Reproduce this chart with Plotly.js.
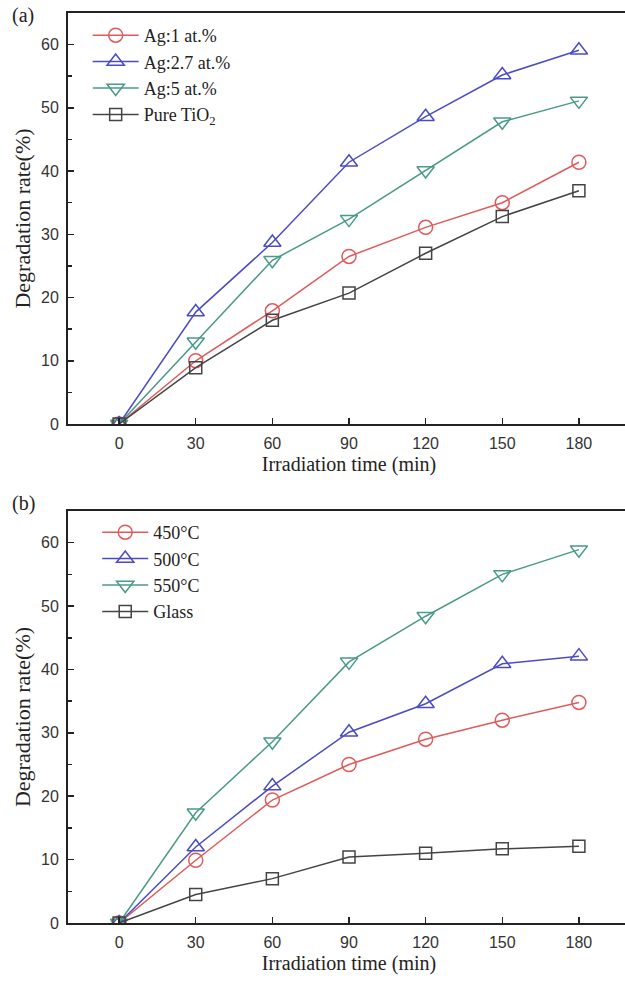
<!DOCTYPE html>
<html>
<head>
<meta charset="utf-8">
<script src="https://cdn.plot.ly/plotly-3.0.1.min.js"></script>
<style>
html,body{margin:0;padding:0;overflow:hidden;background:#fff;width:625px;height:983px;}
#chart{width:640px;height:983px;}
</style>
</head>
<body>
<div id="chart"></div>
<script>
// ---- data ----
const time = [0, 30, 60, 90, 120, 150, 180];
const xTicks = [0, 30, 60, 90, 120, 150, 180];

// panel (a)
const namesA = ["Ag:1 at.%", "Ag:2.7 at.%", "Ag:5 at.%", "Pure TiO<sub>2</sub>"];
const ag1  = [0, 10.0, 17.9, 26.5, 31.1, 35.0, 41.4];
const ag27 = [0, 17.7, 28.7, 41.4, 48.6, 55.2, 59.1];
const ag5  = [0, 13.0, 25.9, 32.4, 40.1, 47.8, 51.1];
const pureTiO2 = [0, 8.9, 16.4, 20.7, 27.0, 32.8, 36.9];

// panel (b)
const namesB = ["450°C", "500°C", "550°C", "Glass"];
const t450 = [0, 9.9, 19.4, 25.0, 29.0, 32.0, 34.8];
const t500 = [0, 12.0, 21.6, 30.1, 34.6, 40.9, 42.1];
const t550 = [0, 17.4, 28.6, 41.2, 48.4, 55.0, 58.9];
const glass = [0, 4.5, 7.0, 10.4, 11.0, 11.7, 12.1];

// ---- styles ----
const colors = ["#e05a5a", "#4b4bc8", "#4a9a88", "#444444"];
const symbols = ["circle-open", "triangle-up-open", "triangle-down-open", "square-open"];
const sizes = [14, 15, 15, 12];

function mk(y, i, name, xa, ya, leg) {
  return {
    x: time, y: y, name: name, type: "scatter", mode: "lines+markers",
    xaxis: xa, yaxis: ya, legend: leg,
    line: {color: colors[i], width: 1.5},
    marker: {symbol: symbols[i], size: sizes[i], color: colors[i], line: {width: 1.5, color: colors[i]}}
  };
}

const traces = [
  mk(ag1, 0, namesA[0], "x", "y", "legend"),
  mk(ag27, 1, namesA[1], "x", "y", "legend"),
  mk(ag5, 2, namesA[2], "x", "y", "legend"),
  mk(pureTiO2, 3, namesA[3], "x", "y", "legend"),
  mk(t450, 0, namesB[0], "x2", "y2", "legend2"),
  mk(t500, 1, namesB[1], "x2", "y2", "legend2"),
  mk(t550, 2, namesB[2], "x2", "y2", "legend2"),
  mk(glass, 3, namesB[3], "x2", "y2", "legend2")
];

const H = 983;
const serif = "Liberation Serif, Times New Roman, serif";
const tickFont = {family: "Liberation Sans, Arial, sans-serif", size: 16, color: "#333"};
const xTitleFont = {family: serif, size: 20, color: "#222"};
const yTitleFont = {family: serif, size: 22, color: "#222"};
const legFont = {family: serif, size: 18, color: "#222"};

function xax(anchor) {
  return {
    anchor: anchor, range: [-20, 200], tickvals: xTicks, ticktext: xTicks.map(String),
    ticks: "inside", ticklen: 6, tickwidth: 1.5, tickcolor: "#222",
    showline: true, linecolor: "#222", linewidth: 2, mirror: true,
    showgrid: false, zeroline: false, tickfont: tickFont, ticklabelstandoff: 4,
    title: {text: "Irradiation time (min)", font: xTitleFont, standoff: 6}
  };
}
function yax(anchor, dom) {
  return {
    anchor: anchor, domain: dom, range: [0, 65], dtick: 10, tick0: 0,
    ticks: "inside", ticklen: 6, tickwidth: 1.5, tickcolor: "#222",
    minor: {dtick: 5, ticks: "inside", ticklen: 4, tickwidth: 1.5, tickcolor: "#222"},
    showline: true, linecolor: "#222", linewidth: 2, mirror: true,
    showgrid: false, zeroline: false, tickfont: tickFont, ticklabelstandoff: 4,
    title: {text: "Degradation rate(%)", font: yTitleFont, standoff: 4}
  };
}

const layout = {
  width: 640, height: H,
  margin: {l: 68, r: 10, t: 0, b: 0},
  paper_bgcolor: "#fff", plot_bgcolor: "#fff",
  xaxis: xax("y"),
  yaxis: yax("x", [1 - 424 / H, 1 - 13 / H]),
  xaxis2: xax("y2"),
  yaxis2: yax("x2", [1 - 923 / H, 1 - 511 / H]),
  legend: {
    x: 0.035, y: 1 - 17 / H, xanchor: "left", yanchor: "top",
    bgcolor: "rgba(0,0,0,0)", font: legFont,
    tracegroupgap: 0, itemwidth: 46
  },
  legend2: {
    x: 0.052, y: 1 - 514 / H, xanchor: "left", yanchor: "top",
    bgcolor: "rgba(0,0,0,0)", font: legFont,
    tracegroupgap: 0, itemwidth: 46
  },
  annotations: [
    {text: "(a)", xref: "paper", yref: "paper", x: -58 / 562, y: 1 - 2 / H, xanchor: "left", yanchor: "top",
     showarrow: false, font: {family: serif, size: 20, color: "#222"}},
    {text: "(b)", xref: "paper", yref: "paper", x: -58 / 562, y: 1 - 490 / H, xanchor: "left", yanchor: "top",
     showarrow: false, font: {family: serif, size: 20, color: "#222"}}
  ],
  showlegend: true
};

Plotly.newPlot("chart", traces, layout, {displayModeBar: false, staticPlot: true});
</script>
</body>
</html>
